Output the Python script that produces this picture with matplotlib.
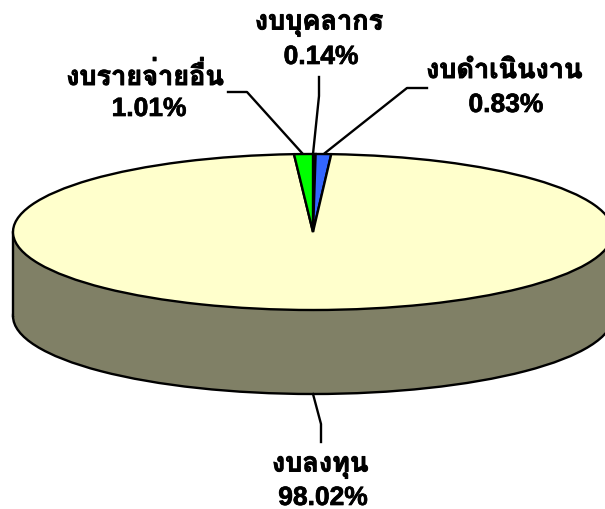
import matplotlib
matplotlib.use("Agg")
import matplotlib.pyplot as plt
import matplotlib.patheffects as pe
from matplotlib.patches import Ellipse, Rectangle

# clockwise from 12 o'clock
categories = ["งบบุคลากร", "งบดำเนินงาน", "งบลงทุน", "งบรายจ่ายอื่น"]
values = [0.14, 0.83, 98.02, 1.01]
colors = ["#C00000", "#3366FF", "#FFFFCC", "#00FF00"]
side_color = "#808066"

# pie geometry in pixels
W, H = 605, 510
CX, CY = 313, 233
RX, RY = 300, 78
DEPTH = 84
LW = 1.7

plt.rcParams["font.family"] = ["Liberation Sans", "Loma"]
plt.rcParams["font.weight"] = "bold"

fig = plt.figure(figsize=(W / 100, H / 100), dpi=100)

# pie axes: one data unit is the pie radius, squashed by the axis limits
ax = fig.add_axes([0, 0, 1, 1])

ax.add_patch(Ellipse((0, -DEPTH / RY), 2, 2, fc=side_color, ec="black", lw=LW, zorder=1))
ax.add_patch(Rectangle((-1, -DEPTH / RY), 2, DEPTH / RY, fc=side_color, ec="none", zorder=1.1))
ax.plot([-1, -1], [0, -DEPTH / RY], color="black", lw=LW, zorder=1.2)
ax.plot([1, 1], [0, -DEPTH / RY], color="black", lw=LW, zorder=1.2)

wedges, _ = ax.pie(values, colors=colors, startangle=90, counterclock=False, radius=1,
                   wedgeprops={"edgecolor": "black", "linewidth": LW, "zorder": 2})
ax.set_aspect("auto")
ax.set_xlim((0 - CX) / RX, (W - CX) / RX)
ax.set_ylim((CY - H) / RY, CY / RY)
ax.axis("off")

# overlay in pixel coordinates for leader lines and labels
ov = fig.add_axes([0, 0, 1, 1])
ov.set_xlim(0, W)
ov.set_ylim(H, 0)
ov.axis("off")
ov.patch.set_alpha(0)

leaders = [
    ([319, 319, 313], [78, 97, 155]),
    ([427, 407, 325], [89, 89, 154]),
    ([313, 321, 321], [395, 425, 443]),
    ([228, 247, 302], [93, 93, 154]),
]
for xs, ys in leaders:
    ov.plot(xs, ys, color="black", lw=LW)

# bold renders light next to the reference, thicken the labels a bit
thick_name = [pe.withStroke(linewidth=0.7, foreground="black")]
thick_pct = [pe.withStroke(linewidth=0.5, foreground="black")]

percent_labels = ["%.2f%%" % v for v in values]
name_pos = [(319, 24), (504, 72), (320, 466), (145, 78)]
pct_pos = [(321, 58), (506, 106), (323, 499), (149, 110)]
for name, pct, np_, pp in zip(categories, percent_labels, name_pos, pct_pos):
    ov.text(np_[0], np_[1], name, ha="center", va="center", fontsize=19.5, color="black",
            path_effects=thick_name)
    ov.text(pp[0], pp[1], pct, ha="center", va="center", fontsize=19, color="black",
            path_effects=thick_pct)

fig.savefig("out.png", dpi=100)
